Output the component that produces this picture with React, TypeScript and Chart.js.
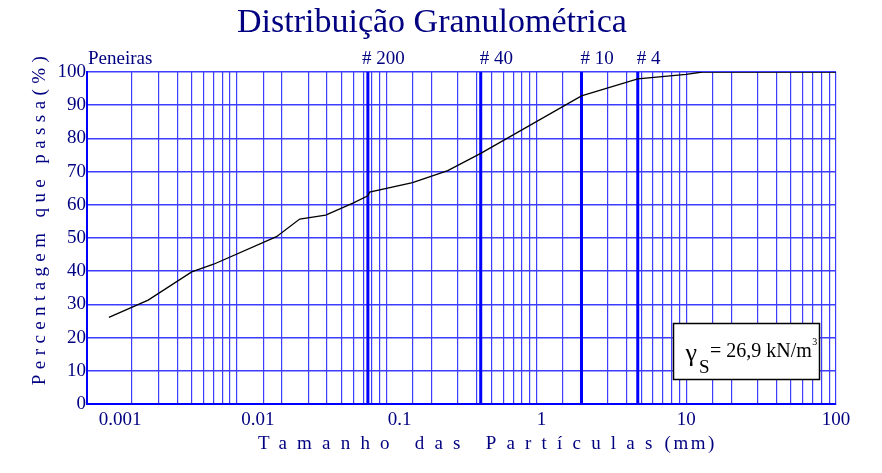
import React, { useEffect, useRef } from 'react';
import { Chart, registerables } from 'chart.js';

Chart.register(...registerables);

// ---- data ----
const grainSizes = [0.0014, 0.00256, 0.005, 0.007, 0.0184, 0.0263, 0.0392, 0.0596, 0.075, 0.077, 0.149, 0.256, 0.425, 2.0, 4.75, 10, 12.8, 100];
const percentPassing = [26.1, 31.3, 39.8, 42.1, 50.4, 55.7, 56.9, 60.5, 62.7, 63.8, 66.7, 70.3, 75.5, 92.8, 97.9, 99.3, 100, 100];
const xRange = [0.001, 100];
const xTickLabels = ['0.001', '0.01', '0.1', '1', '10', '100'];
const yRange = [0, 100];
const yStep = 10;
const sieveNames = ['# 200', '# 40', '# 10', '# 4'];
const sieveOpenings = [0.075, 0.425, 2.0, 4.75];
const titleText = 'Distribuição Granulométrica';
const sieveHeader = 'Peneiras';
const xTitleWords = 'Tamanho das Partículas';
const xTitleUnit = '(mm)';
const yTitleText = 'Percentagem que passa(%)';
const gammaSymbol = 'γ';
const gammaSub = 'S';
const gammaValue = '= 26,9 kN/m';
const gammaSup = '3';

// ---- style ----
const NAVY = '#000080';
const GRID = '#3d3dff';
const FONT = "'Liberation Serif', 'Times New Roman', serif";
// horizontal nudge of each x tick label (px), as in the original figure
const xLabelNudge = [33, 21, 13, 5, 0, 0];

const decorPlugin = {
  id: 'decor',
  beforeDatasetsDraw(chart: any) {
    const { ctx, chartArea: a, scales } = chart;
    const x = scales.x;
    ctx.save();
    ctx.strokeStyle = '#0000ff';
    ctx.lineWidth = 3;
    sieveOpenings.forEach((v) => {
      const px = x.getPixelForValue(v);
      ctx.beginPath();
      ctx.moveTo(px, a.top);
      ctx.lineTo(px, a.bottom);
      ctx.stroke();
    });
    ctx.restore();
  },
  afterDraw(chart: any) {
    const { ctx, chartArea: a, scales } = chart;
    const x = scales.x;
    ctx.save();
    ctx.fillStyle = NAVY;
    ctx.textBaseline = 'alphabetic';

    // title
    ctx.font = `34px ${FONT}`;
    ctx.textAlign = 'center';
    ctx.fillText(titleText, 432, 32);

    // x tick labels
    ctx.font = `19px ${FONT}`;
    ctx.textAlign = 'center';
    xTickLabels.forEach((t, i) => {
      const px = x.getPixelForValue(Number(t));
      ctx.fillText(t, px + xLabelNudge[i], a.bottom + 21);
    });

    // sieve header + sieve labels
    ctx.textAlign = 'left';
    ctx.fillText(sieveHeader, a.left + 1, a.top - 8);
    sieveNames.forEach((n, i) => {
      const px = x.getPixelForValue(sieveOpenings[i]);
      ctx.fillText(n, px - (i === 0 ? 6 : 1), a.top - 8);
    });

    // x title
    (ctx as any).letterSpacing = '10.2px';
    ctx.textAlign = 'left';
    const xStart = 258;
    ctx.fillText(xTitleWords, xStart, 449);
    const w1 = ctx.measureText(xTitleWords).width;
    (ctx as any).letterSpacing = '2.5px';
    ctx.fillText(xTitleUnit, xStart + w1 + 2, 449);

    // y title
    ctx.save();
    ctx.translate(45, 218);
    ctx.rotate(-Math.PI / 2);
    (ctx as any).letterSpacing = '5.4px';
    ctx.textAlign = 'center';
    ctx.fillText(yTitleText, 0, 0);
    ctx.restore();
    (ctx as any).letterSpacing = '0px';

    // unit weight box
    const L = a.right - 162.5;
    const T = a.bottom - 80.5;
    ctx.fillStyle = '#ffffff';
    ctx.fillRect(L, T, 146, 56);
    ctx.strokeStyle = '#000000';
    ctx.lineWidth = 1.5;
    ctx.strokeRect(L, T, 146, 56);
    ctx.fillStyle = '#000000';
    ctx.textAlign = 'left';
    ctx.font = `26px ${FONT}`;
    ctx.fillText(gammaSymbol, L + 12, T + 37);
    ctx.font = `19px ${FONT}`;
    ctx.fillText(gammaSub, L + 25.5, T + 49);
    ctx.font = `20px ${FONT}`;
    ctx.fillText(gammaValue, L + 36.5, T + 33.5);
    const wv = ctx.measureText(gammaValue).width;
    ctx.font = `10px ${FONT}`;
    ctx.fillText(gammaSup, L + 36.5 + wv + 0.5, T + 21.5);
    ctx.restore();
  },
};

export default function App() {
  const ref = useRef<HTMLCanvasElement>(null);
  useEffect(() => {
    if (!ref.current) return;
    const chart = new Chart(ref.current, {
      type: 'line',
      data: {
        datasets: [
          {
            data: grainSizes.map((d, i) => ({ x: d, y: percentPassing[i] })),
            borderColor: '#000000',
            borderWidth: 1.3,
            pointRadius: 0,
            tension: 0,
            fill: false,
          },
        ],
      },
      options: {
        responsive: false,
        animation: false,
        events: [],
        layout: { padding: { top: 72, right: 46, left: 0, bottom: 0 } },
        plugins: {
          legend: { display: false },
          title: { display: false },
          tooltip: { enabled: false },
        },
        scales: {
          x: {
            type: 'logarithmic',
            min: xRange[0],
            max: xRange[1],
            afterFit: (s: any) => {
              s.height = 69;
            },
            grid: { color: GRID, lineWidth: 1.2, drawTicks: false },
            border: { color: '#0000ff', width: 2 },
            ticks: {
              autoSkip: false,
              maxRotation: 0,
              minRotation: 0,
              display: false,
            },
          },
          y: {
            min: yRange[0],
            max: yRange[1],
            afterFit: (s: any) => {
              s.width = 87;
            },
            grid: { color: GRID, lineWidth: 1.5, drawTicks: false },
            border: { color: '#0000ff', width: 2 },
            ticks: {
              stepSize: yStep,
              padding: 1,
              color: NAVY,
              font: { family: FONT, size: 19 },
            },
          },
        },
      },
      plugins: [decorPlugin],
    } as any);
    return () => chart.destroy();
  }, []);
  return (
    <div style={{ position: 'absolute', left: 0, top: 0, width: 882, height: 473 }}>
      <canvas ref={ref} width={882} height={473} />
    </div>
  );
}
